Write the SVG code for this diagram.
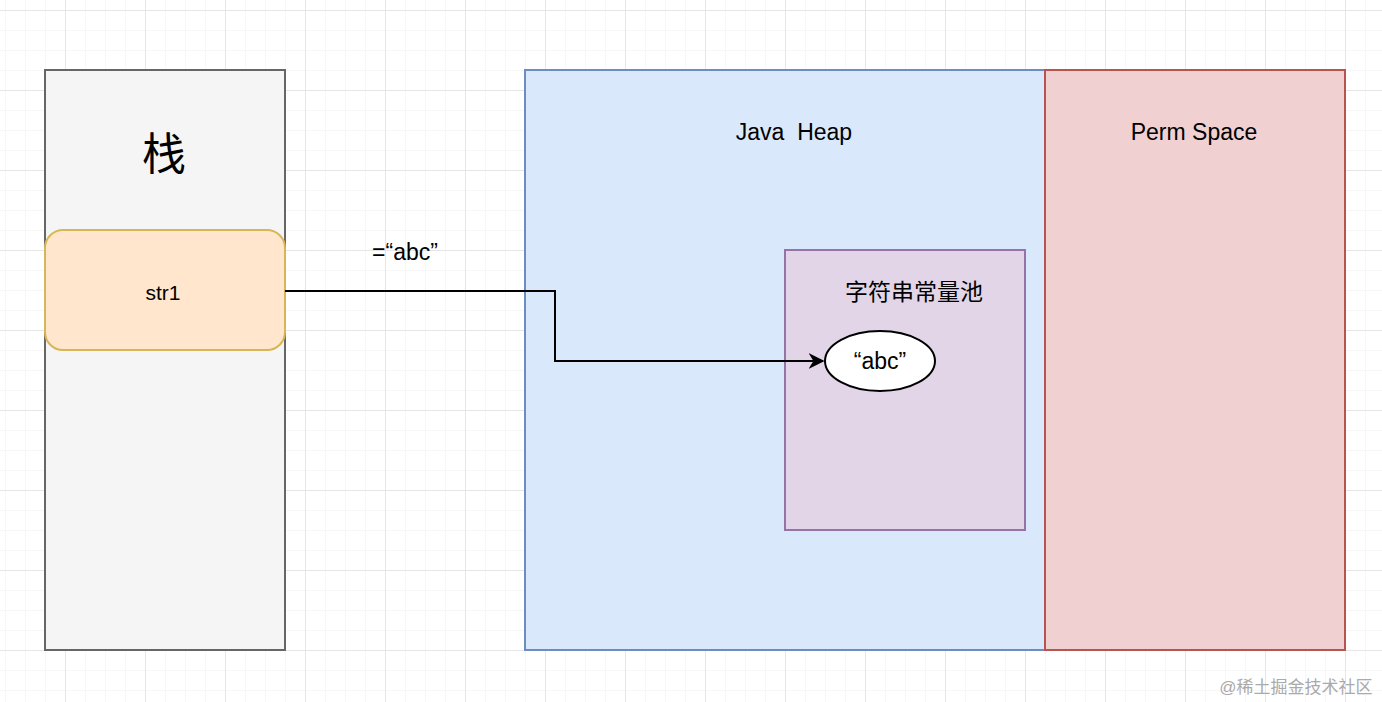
<svg xmlns="http://www.w3.org/2000/svg" width="1382" height="702" viewBox="0 0 1382 702">
<defs>
<pattern id="minor" width="20" height="20" patternUnits="userSpaceOnUse" x="5" y="10"><path d="M0 0H20M0 0V20" fill="none" stroke="#f0f0f0" stroke-width="1"/></pattern>
<pattern id="major" width="80" height="80" patternUnits="userSpaceOnUse" x="65" y="10"><path d="M0 0H80M0 0V80" fill="none" stroke="#d6d6d6" stroke-width="1"/></pattern>
<marker id="arr" viewBox="0 0 10 10" refX="9" refY="5" markerWidth="16" markerHeight="16" markerUnits="userSpaceOnUse" orient="auto"><path d="M0 0L10 5L0 10L3 5Z" fill="#000"/></marker>
</defs>
<style>
text{font-family:"Liberation Sans","Noto Sans CJK SC",sans-serif;fill:#000;text-anchor:middle}
</style>
<rect width="1382" height="702" fill="#fff"/>
<rect width="1382" height="702" fill="url(#minor)"/>
<rect width="1382" height="702" fill="url(#major)"/>
<g id="stack"><rect x="45" y="70" width="240" height="580" fill="#f5f5f5" stroke="#666" stroke-width="2"/><text x="164" y="170" font-size="44">栈</text></g>
<g id="str1"><rect x="45" y="230" width="240" height="120" rx="18" fill="#ffe6cc" stroke="#d6b656" stroke-width="2"/><text x="163" y="300" font-size="21">str1</text></g>
<g id="heap"><rect x="525" y="70" width="520" height="580" fill="#dae8fc" stroke="#6c8ebf" stroke-width="2"/><text x="794" y="140" font-size="23" xml:space="preserve">Java  Heap</text></g>
<g id="perm"><rect x="1045" y="70" width="300" height="580" fill="#f0d0d0" stroke="#b85450" stroke-width="2"/><text x="1194" y="140" font-size="23">Perm Space</text></g>
<g id="pool"><rect x="785" y="250" width="240" height="280" fill="#e1d5e7" stroke="#9673a6" stroke-width="2"/><text x="914" y="300" font-size="23">字符串常量池</text></g>
<g id="abc"><ellipse cx="880" cy="361" rx="55" ry="30" fill="#fff" stroke="#000" stroke-width="2"/><text x="880" y="369" font-size="23">“abc”</text></g>
<g id="connectors"><path d="M285 291H555V361H823" fill="none" stroke="#000" stroke-width="2" marker-end="url(#arr)"/><text x="405" y="260" font-size="23">=“abc”</text></g>
<text x="1296" y="693" font-size="17" style="fill:#aaa">@稀土掘金技术社区</text>
</svg>
